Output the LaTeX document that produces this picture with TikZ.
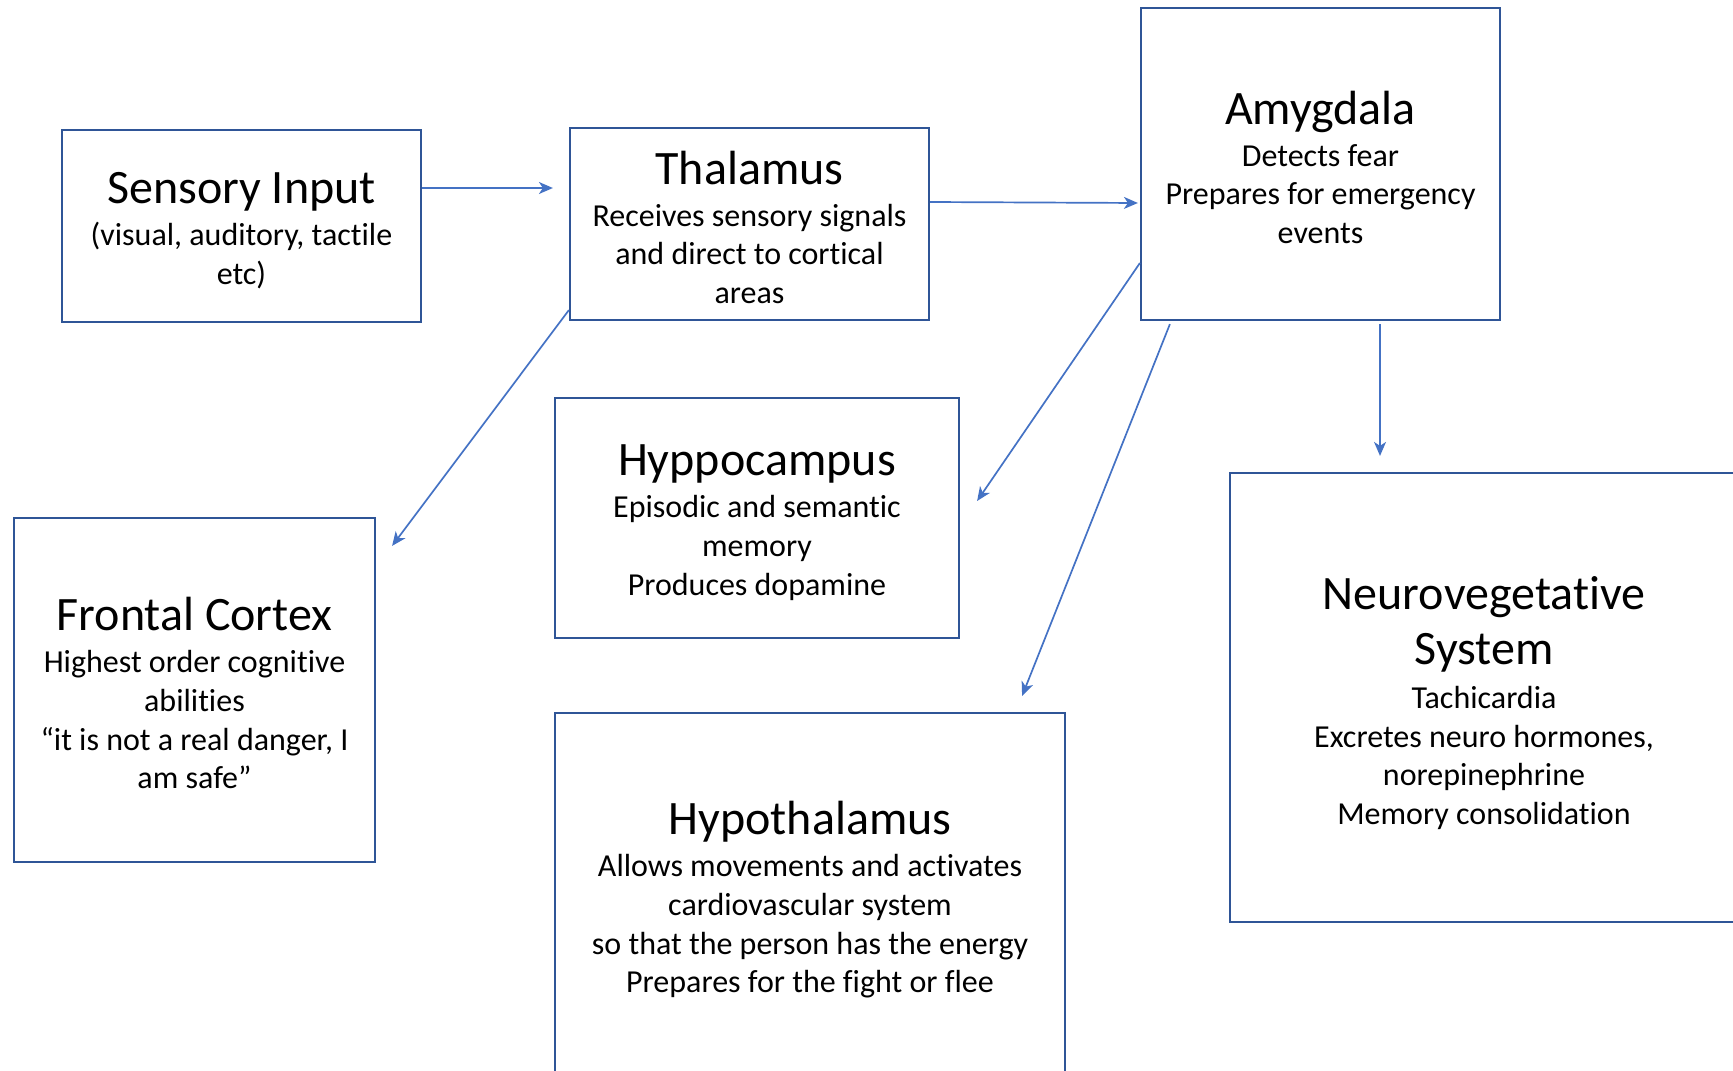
\documentclass[tikz,border=0pt]{standalone}
\usepackage{fontspec}
\setmainfont{Carlito}[RawFeature={-liga;-clig}]
\usetikzlibrary{arrows.meta}
\definecolor{edgeblue}{HTML}{2F5597}
\definecolor{linkblue}{HTML}{4472C4}
\newcommand{\regtitle}[1]{{\fontsize{24pt}{28pt}\selectfont\rule{0pt}{20pt}#1}}
\tikzstyle{region} = [rectangle, draw=edgeblue, line width=1.1pt, inner sep=0pt, align=center, font=\fontsize{16pt}{19.35pt}\selectfont]
\tikzstyle{arrow} = [draw=linkblue, line width=0.85pt, -{Stealth[length=7pt, width=6pt, inset=2pt]}]

\begin{document}
\begin{tikzpicture}[x=0.5pt, y=-0.5pt]
\clip (0,0) rectangle (1733,1070);
\node (sensory) [region, minimum width=179.5pt, minimum height=96pt] at (241.5,226) {\regtitle{Sensory Input}\\[1.6pt](visual, auditory, tactile\\etc)};
\node (thalamus) [region, minimum width=179.5pt, minimum height=96pt] at (749.5,224) {\regtitle{Thalamus}\\[1.6pt]Receives sensory signals\\and direct to cortical\\areas};
\node (amygdala) [region, minimum width=179.5pt, minimum height=156pt] at (1320.5,164) {\regtitle{Amygdala}\\[1.6pt]Detects fear\\Prepares for emergency\\events};
\node (hippo) [region, minimum width=202pt, minimum height=120pt] at (757,518) {\regtitle{Hyppocampus}\\[1.6pt]Episodic and semantic\\memory\\Produces dopamine};
\node (frontal) [region, minimum width=180.5pt, minimum height=172pt] at (194.5,690) {\regtitle{Frontal Cortex}\\[1.6pt]Highest order cognitive\\abilities\\“it is not a real danger, I\\am safe”};
\node (hypo) [region, minimum width=255pt, minimum height=183.5pt] at (810,896.5) {\regtitle{Hypothalamus}\\[1.6pt]Allows movements and activates\\cardiovascular system\\so that the person has the energy\\Prepares for the fight or flee};
\node (neuro) [region, minimum width=254pt, minimum height=224.5pt] at (1484,697.5) {\regtitle{\rule{0pt}{22pt}Neurovegetative}\\[7pt]{\fontsize{24pt}{28pt}\selectfont System}\\[2.6pt]Tachicardia\\Excretes neuro hormones,\\norepinephrine\\Memory consolidation};

\draw [arrow, shorten >=8pt] ([yshift=19pt]sensory.east) -- ([yshift=18pt]thalamus.west);
\draw [arrow, shorten >=1pt] ([yshift=11pt]thalamus.east) -- ([yshift=-19.5pt]amygdala.west);
\draw [arrow] ([yshift=5.5pt]thalamus.south west) -- ([xshift=8pt, yshift=-14.5pt]frontal.north east);
\draw [arrow] ([yshift=-49.5pt]amygdala.west) -- ([xshift=8.5pt, yshift=8.5pt]hippo.east);
\draw [arrow] ([xshift=15pt, yshift=-1.5pt]amygdala.south west) -- ([xshift=-22pt, yshift=8pt]hypo.north east);
\draw [arrow] ([xshift=29.75pt, yshift=-1.5pt]amygdala.south) -- ([xshift=-52pt, yshift=8pt]neuro.north);
\end{tikzpicture}
\end{document}
